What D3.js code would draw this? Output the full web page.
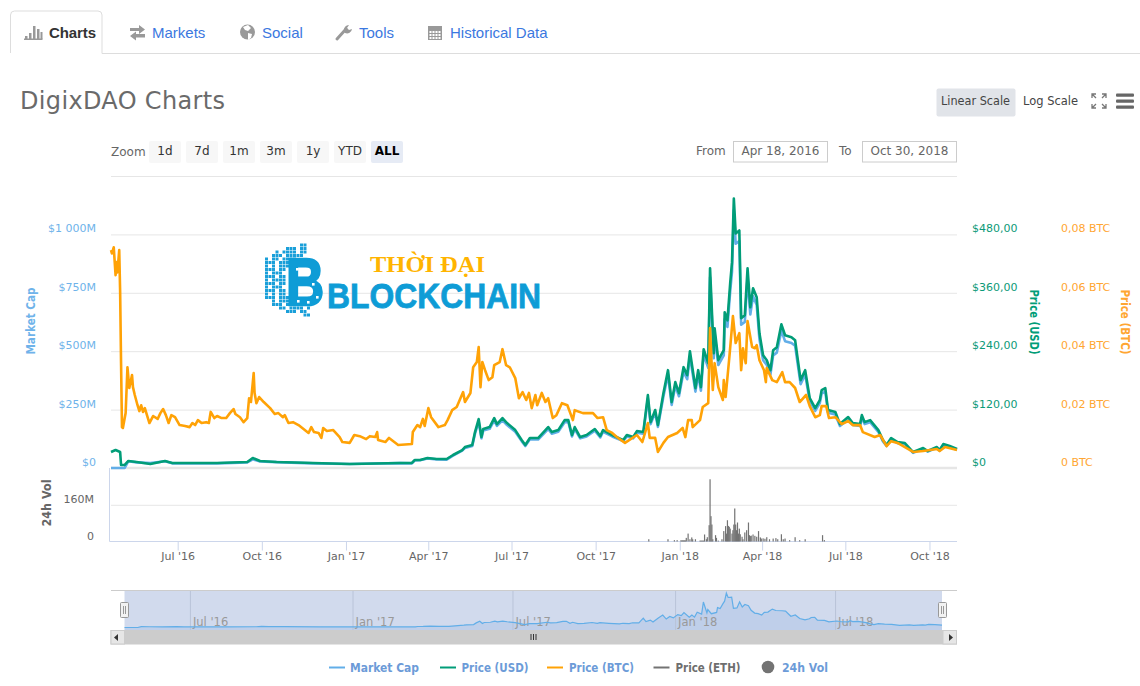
<!DOCTYPE html>
<html><head><meta charset="utf-8">
<script src="https://cdnjs.cloudflare.com/ajax/libs/d3/7.8.5/d3.min.js"></script>
<style>html,body{margin:0;padding:0;background:#fff;overflow:hidden}svg{display:block}text{font-family:"DejaVu Sans",sans-serif}</style>
</head><body><svg id="c" width="1140" height="686"></svg>
<script>
// ---- data (days counted from the first date of the chart) ----
const startDate = "2016-04-18", endDate = "2018-10-30";
const btcDays = [0,1,3,5,6,7,9,10,11,12,13,16,18,20,23,24,26,29,31,33,35,37,42,46,51,54,57,60,63,66,70,75,81,86,89,92,95,99,104,107,109,113,116,121,126,130,134,136,141,145,149,151,153,156,157,159,162,167,174,179,183,188,190,194,199,205,216,219,222,227,230,232,236,243,250,253,261,266,272,279,283,289,291,292,300,304,314,329,330,335,338,341,343,347,350,358,365,368,373,378,385,387,393,396,400,402,404,406,409,413,417,419,425,428,432,436,442,446,450,454,457,460,464,466,471,475,478,483,487,493,499,505,507,516,527,532,538,542,548,553,562,575,581,587,589,595,598,604,609,619,625,628,631,635,636,644,647,653,655,658,660,664,669,670,672,676,678,680,683,687,689,691,694,696,701,704,706,709,714,716,717,723,728,734,737,742,748,753,760,764,770,775,777,782,785,792,799,806,811,819,822,835,841,848,853,860,877,888,903,906,912,925];
const btcValues = [.0746,.0735,.0756,.0660,.0705,.0670,.0746,.0602,.0359,.0140,.0137,.0188,.0345,.0274,.0318,.0277,.0250,.0215,.0195,.0215,.0192,.0205,.0154,.0178,.0168,.0188,.0202,.0181,.0154,.0181,.0174,.0147,.0144,.0140,.0154,.0147,.0164,.0154,.0157,.0154,.0192,.0171,.0178,.0171,.0171,.0188,.0202,.0185,.0174,.0157,.0171,.0239,.0226,.0325,.0257,.0222,.0243,.0226,.0205,.0185,.0188,.0174,.0181,.0154,.0157,.0147,.0120,.0140,.0123,.0120,.0103,.0137,.0127,.0130,.0106,.0089,.0086,.0113,.0109,.0099,.0109,.0106,.0123,.0096,.0089,.0103,.0079,.0082,.0123,.0147,.0140,.0168,.0144,.0205,.0174,.0140,.0147,.0164,.0198,.0209,.0260,.0226,.0257,.0345,.0363,.0414,.0277,.0363,.0335,.0301,.0311,.0352,.0363,.0407,.0352,.0345,.0308,.0239,.0260,.0233,.0257,.0205,.0250,.0215,.0257,.0226,.0239,.0171,.0181,.0222,.0215,.0164,.0198,.0188,.0188,.0171,.0174,.0130,.0120,.0106,.0086,.0113,.0089,.0154,.0103,.0103,.0055,.0086,.0106,.0120,.0137,.0106,.0164,.0164,.0140,.0164,.0209,.0222,.0479,.0267,.0359,.0277,.0233,.0301,.0243,.0376,.0448,.0520,.0428,.0462,.0335,.0410,.0359,.0503,.0414,.0410,.0421,.0369,.0335,.0294,.0342,.0301,.0294,.0328,.0294,.0294,.0274,.0226,.0250,.0212,.0174,.0181,.0212,.0212,.0171,.0174,.0150,.0161,.0147,.0147,.0123,.0106,.0113,.0075,.0092,.0086,.0055,.0058,.0065,.0058,.0072,.0062];
const usdDays = [0,5,10,11,15,19,28,43,59,67,116,149,155,163,181,221,261,316,329,332,338,346,356,367,374,384,387,395,398,402,405,407,414,419,422,428,433,442,449,453,458,467,478,482,489,496,500,504,507,513,520,529,535,538,548,560,564,571,575,582,587,590,595,598,604,609,613,617,621,626,630,633,639,642,645,648,653,655,659,660,664,670,671,674,677,679,681,683,687,689,693,696,699,702,706,709,713,717,721,724,728,733,737,744,748,751,754,759,764,770,775,777,781,784,792,797,806,811,819,821,824,830,839,844,848,853,860,868,877,888,893,903,906,910,917,925];
const usdValues = [32.8,36.9,32.8,6.2,6.2,14.4,12.3,8.2,14.4,10.3,10.3,12.3,20.5,14.4,12.3,10.3,8.2,10.3,10.3,16.4,16.4,20.5,18.5,18.5,26.7,36.9,43.1,47.2,73.8,100.5,63.6,80,84.1,102.6,90.2,102.6,92.3,77.9,57.4,47.2,61.5,61.5,84.1,73.8,77.9,98.4,98.4,67.7,84.1,63.6,67.7,80,65.6,77.9,67.7,57.4,67.7,63.6,75.9,73.8,149.7,94.3,119,88.2,153.8,201,135.4,176.4,153.8,207.2,190.7,240,164.1,201,166.1,244,215.4,410.2,235.9,287.1,221.5,242,320,303.5,379.4,422.5,553.8,482,488.1,307.7,313.8,410.2,330.2,369.2,350.7,276.9,231.8,221.5,201,242,248.2,295.3,272.8,268.7,262.5,221.5,180.5,201,143.6,123.1,139.5,160,164.1,119,114.9,90.2,104.6,92.3,90.2,108.7,94.3,98.4,77.9,57.4,47.2,61.5,53.3,51.3,32.8,41,34.9,43.1,36.9,49.2,45.1,39];
const capDays = usdDays;
const capValues = [0,0,0,0,0,29,24,21,29,20,20,24,37,28,25,20,17,21,20,32,33,41,37,36,53,74,86,94,147,199,127,160,168,204,180,204,184,155,115,94,123,122,167,147,155,196,197,135,167,127,135,160,131,155,135,115,135,127,151,147,297,188,237,176,306,400,270,351,307,412,380,478,327,400,331,486,429,816,470,572,441,482,637,604,755,841,1103,960,972,613,625,817,657,735,698,551,461,441,400,482,494,588,543,535,523,441,359,400,286,245,278,319,327,237,229,180,208,184,180,216,188,196,155,114,94,122,106,102,65,82,70,86,74,98,90,78];
const volDays = [588,609,616,619,623,624,625,626,627,628,629,631,633,635,636,639,644,645,646,647,648,649,651,652,654,655,656,657,658,661,662,664,668,670,672,673,674,675,676,677,679,680,681,682,683,684,685,686,687,688,690,691,693,695,697,698,699,700,702,704,706,708,710,711,713,715,717,720,724,727,729,733,735,737,742,748,753,759,778,780];
const volValues = [10,10,6,6,5,5,5,5,5,5,16,35,10,18,10,10,4,4,4,4,4,31,10,19,72,275,112,75,10,28,16,4,10,46,68,35,94,69,65,57,35,50,75,146,75,50,84,35,57,32,21,10,40,50,84,28,24,26,31,25,21,46,18,13,14,12,19,10,13,15,10,32,10,13,6,19,6,10,28,6];
const capTicks = [0,250,500,750,1000], capTickLabels = ["$0","$250M","$500M","$750M","$1 000M"];
const usdTicks = [0,120,240,360,480], usdTickLabels = ["$0","$120,00","$240,00","$360,00","$480,00"];
const btcTicks = [0,.02,.04,.06,.08], btcTickLabels = ["0 BTC","0,02 BTC","0,04 BTC","0,06 BTC","0,08 BTC"];
const volTicks = [0,160], volTickLabels = ["0","160M"];
const tabNames = ["Charts","Markets","Social","Tools","Historical Data"];
const zoomLabels = ["1d","7d","1m","3m","1y","YTD","ALL"];
const legendNames = ["Market Cap","Price (USD)","Price (BTC)","Price (ETH)","24h Vol"];

// ---- colours ----
const cBlue="#62aee8", cGreen="#019d78", cOrange="#ffa206", cGrey="#737373", cGrid="#e6e6e6", cAxis="#ccd6eb";
const parse=d3.utcParse("%Y-%m-%d"), t0=parse(startDate), t1=parse(endDate);
const day=d=>d3.utcDay.offset(t0,d);
const svg=d3.select("#c");

// ---- scales ----
const x=d3.scaleUtc().domain([t0,t1]).range([111,957]);
const yCap=d3.scaleLinear().domain([0,1250]).range([468,176]);
const yUsd=d3.scaleLinear().domain([0,600]).range([468,176]);
const yBtc=d3.scaleLinear().domain([0,.1]).range([468,176]);
const yVol=d3.scaleLinear().domain([0,160]).range([541.5,505.3]);
const xNav=d3.scaleUtc().domain([t0,t1]).range([124.5,942]);
const yNav=d3.scaleLinear().domain([0,1103]).range([627.5,593]);

// ---- tabs ----
svg.append("path").attr("d","M10.5 53V15a4 4 0 0 1 4-4H98a4 4 0 0 1 4 4V53.5H1140").attr("fill","none").attr("stroke","#ddd");
const tabX=[49,152,262,359,450];
tabNames.forEach((n,i)=>svg.append("text").attr("x",tabX[i]).attr("y",38).text(n)
  .style("font-family","'Liberation Sans',sans-serif").style("font-size","15px")
  .style("font-weight",i?400:700).attr("fill",i?"#3b78e0":"#333").attr("textLength",i===0?47:null));
const ic="#999";
[[25,36,2.5,3],[29,33,2.5,6],[33,26,2.5,13],[37,29,2.5,10],[40.5,32,2,7]].forEach(r=>svg.append("rect").attr("x",r[0]).attr("y",r[1]).attr("width",r[2]).attr("height",r[3]).attr("fill",ic));
svg.append("rect").attr("x",24).attr("y",38.5).attr("width",18.5).attr("height",1.5).attr("fill",ic);
svg.append("path").attr("d","M130 29h9v-3l6 4.5-6 4.5v-3h-9zM145 35h-9v-2.500l-6 4.5 6 4.500v-3h9z").attr("fill",ic).attr("transform","translate(0,-1)");
svg.append("circle").attr("cx",247.5).attr("cy",32).attr("r",7.5).attr("fill",ic);
svg.append("path").attr("d","M243 27l5-2 3 3-3 3-3-1zM248 33l4 1-1 4-3 2z").attr("fill","#fff");
svg.append("path").attr("d","M337 39L346 29").attr("stroke",ic).attr("stroke-width",3).attr("stroke-linecap","round");
svg.append("path").attr("d","M344 31a5 5 0 0 1 5-6l-2 3 2 2 3-1a5 5 0 0 1-7 4z").attr("fill",ic);
svg.append("rect").attr("x",428).attr("y",26).attr("width",14).attr("height",14).attr("fill",ic);
d3.range(4).forEach(i=>d3.range(3).forEach(j=>svg.append("rect").attr("x",429.5+i*3).attr("y",31+j*3).attr("width",2).attr("height",2).attr("fill","#fff")));

// ---- title and controls ----
svg.append("text").attr("x",20).attr("y",109).text("DigixDAO Charts").attr("textLength",205).attr("lengthAdjust","spacing").attr("fill","#6a6a6a").style("font-size","24px");
svg.append("rect").attr("x",936.5).attr("y",88.5).attr("width",79).attr("height",28).attr("rx",2).attr("fill","#e1e4e9");
svg.append("text").attr("x",941).attr("y",105).text("Linear Scale").attr("textLength",69).attr("lengthAdjust","spacingAndGlyphs").attr("fill","#444").style("font-size","12px");
svg.append("text").attr("x",1023).attr("y",105).text("Log Scale").attr("textLength",55).attr("lengthAdjust","spacingAndGlyphs").attr("fill","#444").style("font-size","12px");
svg.append("path").attr("d","M1092 98v-4h4M1102 94h4v4M1106 104v4h-4M1096 108h-4v-4M1092 94l4 4M1106 94l-4 4M1106 108l-4-4M1092 108l4-4").attr("fill","none").attr("stroke","#777").attr("stroke-width",1.3);
[95,101,107].forEach(y=>svg.append("rect").attr("x",1116).attr("y",y-1.5).attr("width",18).attr("height",3.2).attr("rx",1).attr("fill","#666"));
svg.append("text").attr("x",111).attr("y",156).text("Zoom").attr("fill","#666").style("font-size","12px");
zoomLabels.forEach((z,i)=>{const bx=149+37*i,last=i===6;
  svg.append("rect").attr("x",bx).attr("y",141).attr("width",32).attr("height",22).attr("rx",2).attr("fill",last?"#e6ebf5":"#f7f7f7");
  svg.append("text").attr("x",bx+16).attr("y",155).attr("text-anchor","middle").text(z).attr("fill",last?"#000":"#333")
    .style("font-size","12px").style("font-weight",last?700:400);});
svg.append("text").attr("x",696).attr("y",155).text("From").attr("fill","#666").style("font-size","12px");
svg.append("text").attr("x",839).attr("y",155).text("To").attr("fill","#666").style("font-size","12px");
[[733.5,"Apr 18, 2016"],[862.5,"Oct 30, 2018"]].forEach(b=>{
  svg.append("rect").attr("x",b[0]).attr("y",141.5).attr("width",94).attr("height",20.5).attr("fill","#fff").attr("stroke","#ccc");
  svg.append("text").attr("x",b[0]+47).attr("y",155).attr("text-anchor","middle").text(b[1]).attr("fill","#666").style("font-size","12px");});

// ---- grid ----
const gridTicks=[250,500,750,1000,1250];
svg.append("g").selectAll("line").data(gridTicks).join("line").attr("x1",111).attr("x2",957).attr("y1",d=>yCap(d)+.5).attr("y2",d=>yCap(d)+.5).attr("stroke",cGrid);
svg.append("line").attr("x1",111).attr("x2",957).attr("y1",468).attr("y2",468).attr("stroke",cGrid).attr("stroke-width",2.5);
svg.append("line").attr("x1",111).attr("x2",957).attr("y1",yVol(160)).attr("y2",yVol(160)).attr("stroke",cGrid);

// ---- watermark logo ----
const logo=svg.append("g");
const blocks=["..........##.","......###.##.","...#.####.##.","..###.#####..","#.##.####....","###.####.....","#.#.###......","###.##.......","#.###........","###.##.......","#.####.......","###.##.......","#.###........","###.##.......","#.#.##.......","###.###......","..#.####.....","..###.####.#.","....##.####.#","......###.##.","...........##"];
blocks.forEach((row,j)=>row.split("").forEach((c,i)=>{if(c==="#")logo.append("rect").attr("x",265+i*3.5).attr("y",243.5+j*3.5).attr("width",3).attr("height",3).attr("fill","#1a9fd9");}));
logo.append("text").attr("transform","translate(286,305) scale(.8,1)").text("B").attr("fill","#0e9cd6").attr("stroke","#0e9cd6").attr("stroke-width",2.5).style("font-family","'Liberation Sans'").style("font-weight",700).style("font-size","66px");
[[296,268],[303,272],[312,283],[316,296],[300,290],[297,300],[307,301]].forEach(p=>logo.append("rect").attr("x",p[0]).attr("y",p[1]).attr("width",2.6).attr("height",2.6).attr("fill","#fff"));
logo.append("text").attr("x",370).attr("y",272).text("THỜI ĐẠI").attr("textLength",115).attr("lengthAdjust","spacingAndGlyphs").attr("fill","#ffb400").style("font-family","'Liberation Serif',serif").style("font-weight",700).style("font-size","24px");
logo.append("text").attr("x",327).attr("y",308).text("BLOCKCHAIN").attr("textLength",214).attr("lengthAdjust","spacingAndGlyphs").attr("fill","#0e9cd6").attr("stroke","#0e9cd6").attr("stroke-width",.8).style("font-family","'Liberation Sans'").style("font-weight",700).style("font-size","35px");

// ---- axes ----
function styleAxis(g,color,size){g.select(".domain").remove();g.selectAll(".tick line").remove();
  g.selectAll("text").attr("fill",color).style("font-size",size+"px").style("font-family","'DejaVu Sans'");}
const lab=(ticks,labels)=>d=>labels[ticks.indexOf(d)];
svg.append("g").attr("transform","translate(96,-6)").call(d3.axisLeft(yCap).tickValues(capTicks).tickSize(0).tickPadding(0).tickFormat(lab(capTicks,capTickLabels))).call(styleAxis,"#6fb3ea",11);
svg.append("g").attr("transform","translate(972,-6)").call(d3.axisRight(yUsd).tickValues(usdTicks).tickSize(0).tickPadding(0).tickFormat(lab(usdTicks,usdTickLabels))).call(styleAxis,"#0c9a78",11);
svg.append("g").attr("transform","translate(1061,-6)").call(d3.axisRight(yBtc).tickValues(btcTicks).tickSize(0).tickPadding(0).tickFormat(lab(btcTicks,btcTickLabels))).call(styleAxis,"#ffa632",11);
svg.append("g").attr("transform","translate(94,-6)").call(d3.axisLeft(yVol).tickValues(volTicks).tickSize(0).tickPadding(0).tickFormat(lab(volTicks,volTickLabels))).call(styleAxis,"#666",11);
function rotTitle(t,xx,yy,a,col,len){svg.append("text").attr("transform",`translate(${xx},${yy}) rotate(${a})`).attr("text-anchor","middle").text(t).attr("textLength",len).attr("lengthAdjust","spacingAndGlyphs").attr("fill",col).style("font-size","11.5px").style("font-weight",700);}
rotTitle("Market Cap",35,321,-90,"#6fb3ea",67);
rotTitle("Price (USD)",1030,322,90,cGreen,65);
rotTitle("Price (BTC)",1121,322,90,"#ffa632",65);
rotTitle("24h Vol",51,503,-90,"#666",47);

// x axis
const monthTicks=d3.utcMonth.range(parse("2016-07-01"),t1,3);
const fmt=d3.utcFormat("%b '%y");
const gx=svg.append("g").attr("transform","translate(-1,541.5)").call(d3.axisBottom(x).tickValues(monthTicks).tickSize(9).tickPadding(2).tickFormat(fmt));
gx.select(".domain").remove();
gx.selectAll(".tick line").attr("stroke",cAxis);
gx.selectAll("text").attr("fill","#666").style("font-size","11px").style("font-family","'DejaVu Sans'");
svg.append("line").attr("x1",109.5).attr("x2",957).attr("y1",541.5).attr("y2",541.5).attr("stroke",cAxis);
svg.append("line").attr("x1",109.5).attr("x2",109.5).attr("y1",468).attr("y2",541.5).attr("stroke",cAxis);

// ---- volume bars ----
svg.append("g").selectAll("rect").data(d3.zip(volDays,volValues)).join("rect")
  .attr("x",d=>x(day(d[0]))-.6).attr("width",1.2).attr("y",d=>yVol(d[1])).attr("height",d=>yVol(0)-yVol(d[1])).attr("fill",cGrey);

// ---- lines ----
const lineOf=(ys)=>d3.line().x(d=>x(day(d[0]))).y(d=>ys(d[1]));
[[capDays,capValues,yCap,cBlue],[usdDays,usdValues,yUsd,cGreen],[btcDays,btcValues,yBtc,cOrange]].forEach(s=>{
  svg.append("path").datum(d3.zip(s[0],s[1])).attr("d",lineOf(s[2])).attr("fill","none").attr("stroke",s[3]).attr("stroke-width",2.6).attr("stroke-linejoin","round");});

// ---- navigator ----
const navData=d3.zip(capDays,capValues);
svg.append("path").datum(navData).attr("d",d3.area().x(d=>xNav(day(d[0]))).y0(630).y1(d=>yNav(d[1]))).attr("fill","#7cb5ec").attr("opacity",.2);
svg.append("rect").attr("x",124.5).attr("y",590.5).attr("width",817.5).attr("height",39.5).attr("fill","#6685c2").attr("opacity",.3);
const navTicks=d3.utcMonth.range(parse("2016-07-01"),t1,6);
const gn=svg.append("g").attr("transform","translate(0,630)").call(d3.axisTop(xNav).tickValues(navTicks).tickSize(39).tickFormat(""));
gn.select(".domain").remove(); gn.selectAll(".tick line").attr("stroke","#b9c3d8");
svg.append("g").selectAll("text").data(navTicks).join("text").attr("x",d=>xNav(d)+3).attr("y",626).text(fmt).attr("fill","#999").style("font-size","11.5px");
svg.append("path").datum(navData).attr("d",d3.line().x(d=>xNav(day(d[0]))).y(d=>yNav(d[1]))).attr("fill","none").attr("stroke",cBlue).attr("stroke-width",1.2);
svg.append("line").attr("x1",111).attr("x2",957).attr("y1",590.5).attr("y2",590.5).attr("stroke","#ccc");
[120.5,938.5].forEach(h=>{svg.append("rect").attr("x",h).attr("y",602.5).attr("width",8).attr("height",15).attr("rx",1).attr("fill","#f2f2f2").attr("stroke","#999");
  [h+3,h+5].forEach(l=>svg.append("line").attr("x1",l).attr("x2",l).attr("y1",606).attr("y2",614).attr("stroke","#999"));});
// scrollbar
svg.append("rect").attr("x",110.5).attr("y",630).attr("width",846.5).attr("height",14.5).attr("fill","#ccc");
[[111,"M118 634l-4 3.5 4 3.5z"],[943,"M949 634l4 3.5-4 3.5z"]].forEach(b=>{
  svg.append("rect").attr("x",b[0]).attr("y",630.5).attr("width",13.5).attr("height",13.5).attr("fill","#e6e6e6").attr("stroke","#ccc");
  svg.append("path").attr("d",b[1]).attr("fill","#333");});
[531,533.5,536].forEach(l=>svg.append("line").attr("x1",l).attr("x2",l).attr("y1",634).attr("y2",640).attr("stroke","#333"));

// ---- legend ----
const legendX=[350,461.5,569,675.5,782], legendLen=[69,67,65,65,46], legendLine=[329,440,547,653.5], legendCol=[cBlue,cGreen,cOrange,cGrey];
const legendText=["#6c9bd8","#6c9bd8","#6c9bd8","#6e6e6e","#6c9bd8"];
legendNames.forEach((n,i)=>{
  svg.append("text").attr("x",legendX[i]).attr("y",672).text(n).attr("textLength",legendLen[i]).attr("lengthAdjust","spacingAndGlyphs").attr("fill",legendText[i]).style("font-size","12px").style("font-weight",700);
  if(i<4)svg.append("line").attr("x1",legendLine[i]).attr("x2",legendLine[i]+16).attr("y1",667.5).attr("y2",667.5).attr("stroke",legendCol[i]).attr("stroke-width",2);
  else svg.append("circle").attr("cx",768).attr("cy",667).attr("r",6.3).attr("fill",cGrey);
});
</script></body></html>
